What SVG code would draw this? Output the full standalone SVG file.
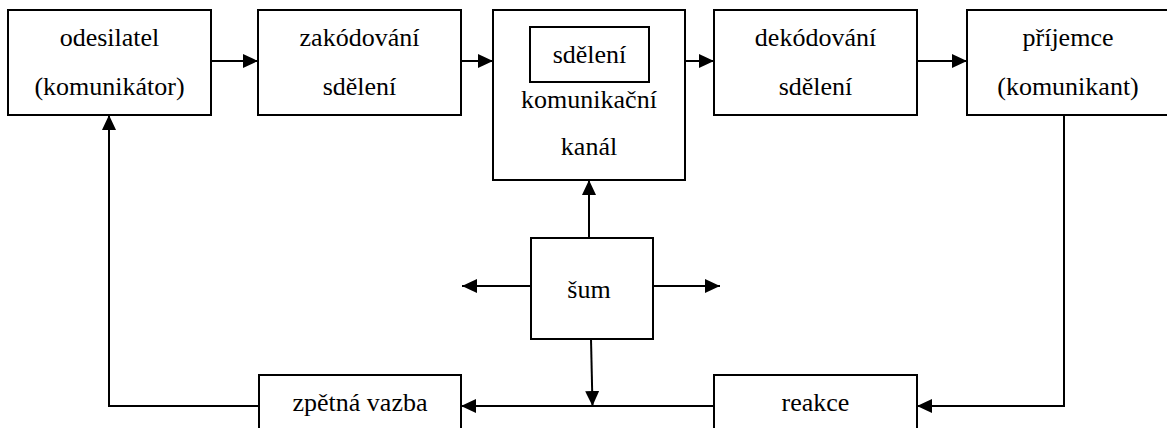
<svg xmlns="http://www.w3.org/2000/svg" width="1167" height="428" viewBox="0 0 1167 428">
  <style>
    .box { fill: #fff; stroke: #000; stroke-width: 2; }
    .line { fill: none; stroke: #000; stroke-width: 2; }
    .lbl { font-family: "Liberation Serif", "DejaVu Serif", serif; font-size: 26px; fill: #000; text-anchor: middle; }
  </style>
  <defs>
    <marker id="arrow" markerWidth="16" markerHeight="14" refX="15" refY="7" orient="auto" markerUnits="userSpaceOnUse">
      <path d="M0,0 L15,7 L0,14 Z" fill="#000"/>
    </marker>
  </defs>

  <rect width="1167" height="428" fill="#fff"/>

  <!-- connectors -->
  <g id="connectors">
    <path class="line" d="M211,61 H258" marker-end="url(#arrow)"/>
    <path class="line" d="M461,61 H493" marker-end="url(#arrow)"/>
    <path class="line" d="M685,61 H714" marker-end="url(#arrow)"/>
    <path class="line" d="M917,61 H967" marker-end="url(#arrow)"/>
    <path class="line" d="M1064,115 V406 H917" marker-end="url(#arrow)"/>
    <path class="line" d="M714,406 H461" marker-end="url(#arrow)"/>
    <path class="line" d="M259,406 H109 V115" marker-end="url(#arrow)"/>
    <path class="line" d="M589,238 V180" marker-end="url(#arrow)"/>
    <path class="line" d="M531,286 H462" marker-end="url(#arrow)"/>
    <path class="line" d="M653,286 H720" marker-end="url(#arrow)"/>
    <path class="line" d="M591,339 L592.5,406" marker-end="url(#arrow)"/>
  </g>

  <!-- nodes -->
  <g id="odesilatel">
    <rect class="box" x="8" y="10" width="203" height="105"/>
    <text class="lbl" font-family="Liberation Serif" x="109.5" y="46">odesilatel</text>
    <text class="lbl" font-family="Liberation Serif" x="109.5" y="95">(komunikátor)</text>
  </g>
  <g id="zakodovani">
    <rect class="box" x="258" y="10" width="203" height="105"/>
    <text class="lbl" x="359.5" y="46">zakódování</text>
    <text class="lbl" x="359.5" y="95">sdělení</text>
  </g>
  <g id="kanal">
    <rect class="box" x="493" y="10" width="192" height="170"/>
    <rect class="box" x="530" y="27" width="119" height="55"/>
    <text class="lbl" x="589.5" y="63">sdělení</text>
    <text class="lbl" x="589" y="108">komunikační</text>
    <text class="lbl" x="589" y="155">kanál</text>
  </g>
  <g id="dekodovani">
    <rect class="box" x="714" y="10" width="203" height="105"/>
    <text class="lbl" x="815.5" y="46">dekódování</text>
    <text class="lbl" x="815.5" y="95">sdělení</text>
  </g>
  <g id="prijemce">
    <rect class="box" x="967" y="10" width="203" height="105"/>
    <text class="lbl" x="1068" y="46">příjemce</text>
    <text class="lbl" x="1068" y="95">(komunikant)</text>
  </g>
  <g id="sum">
    <rect class="box" x="531" y="238" width="122" height="101"/>
    <text class="lbl" x="589" y="298">šum</text>
  </g>
  <g id="zpetna-vazba">
    <rect class="box" x="259" y="375" width="202" height="60"/>
    <text class="lbl" x="360" y="411">zpětná vazba</text>
  </g>
  <g id="reakce">
    <rect class="box" x="714" y="375" width="203" height="60"/>
    <text class="lbl" x="815.5" y="411">reakce</text>
  </g>
</svg>
